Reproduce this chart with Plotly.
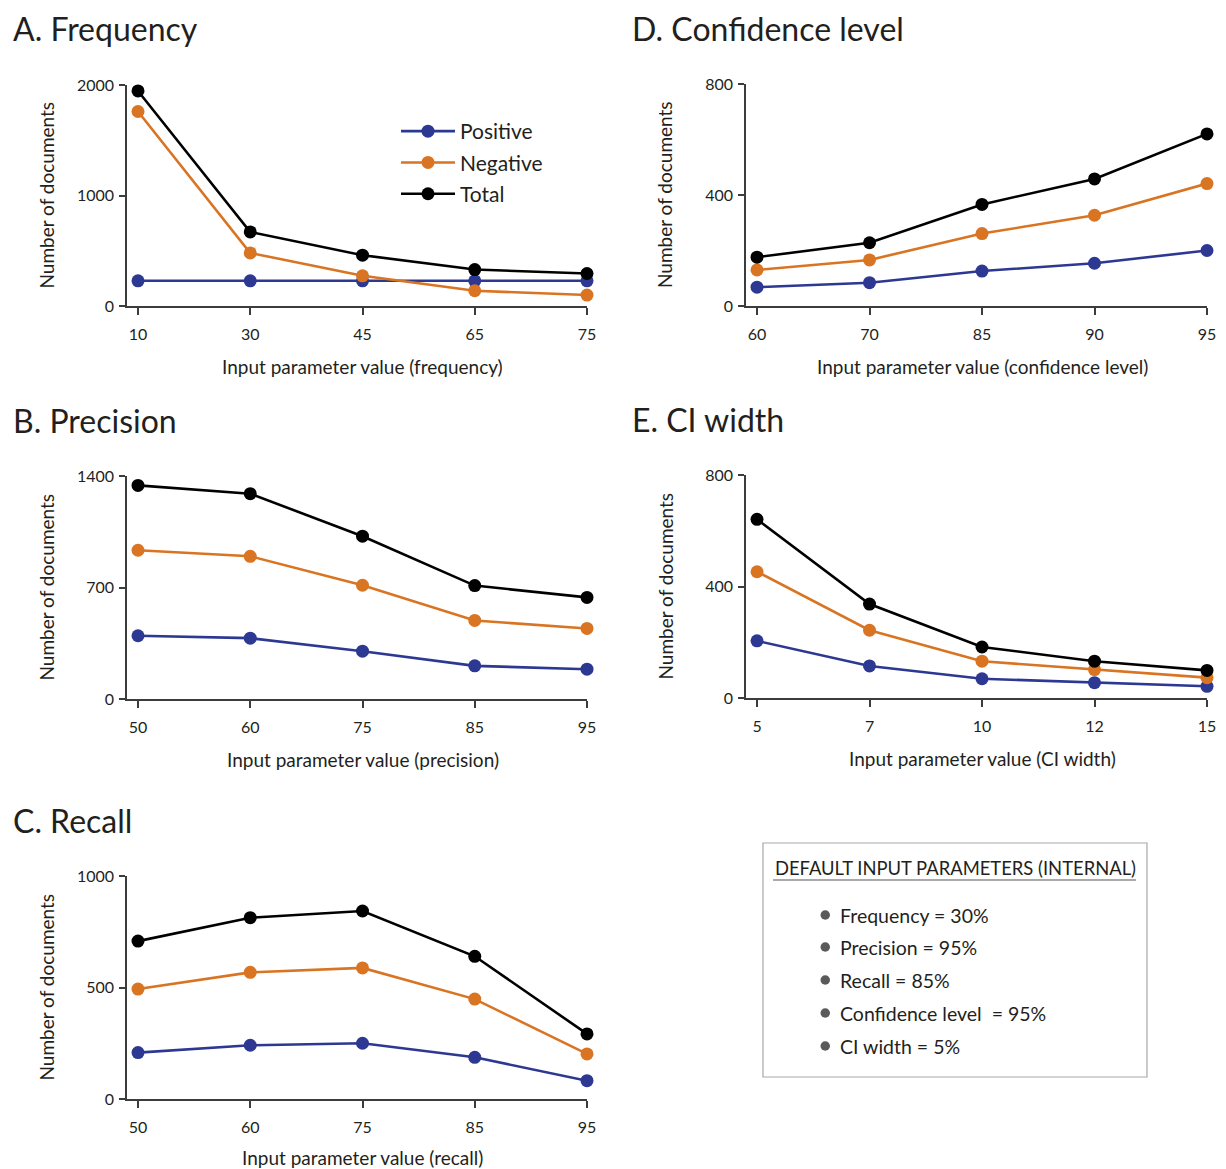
import plotly.graph_objects as go

# page is 1226x1169; the html body has an 8px margin, so the figure starts at (8, 8)
PAGE_W, PAGE_H = 1226, 1169
OFF = 8
W, H = PAGE_W - 2 * OFF, PAGE_H - OFF

# ---------------- data ----------------
freq_x = ["10", "30", "45", "65", "75"]
freq_pos = [228, 228, 228, 228, 228]
freq_neg = [1760, 480, 273, 138, 99]
freq_tot = [1946, 670, 460, 330, 294]
freq_yticks = [0, 1000, 2000]

prec_x = ["50", "60", "75", "85", "95"]
prec_pos = [397, 382, 300, 208, 187]
prec_neg = [934, 896, 714, 493, 443]
prec_tot = [1341, 1289, 1022, 712, 638]
prec_yticks = [0, 700, 1400]

rec_x = ["50", "60", "75", "85", "95"]
rec_pos = [208, 241, 250, 187, 82]
rec_neg = [493, 568, 588, 448, 202]
rec_tot = [708, 813, 843, 640, 292]
rec_yticks = [0, 500, 1000]

conf_x = ["60", "70", "85", "90", "95"]
conf_pos = [68, 84, 126, 154, 200]
conf_neg = [130, 166, 261, 327, 441]
conf_tot = [176, 228, 366, 458, 620]
conf_yticks = [0, 400, 800]

ci_x = ["5", "7", "10", "12", "15"]
ci_pos = [205, 115, 69, 55, 42]
ci_neg = [453, 243, 132, 102, 73]
ci_tot = [641, 337, 183, 132, 99]
ci_yticks = [0, 400, 800]

series_names = ["Positive", "Negative", "Total"]
series_colors = ["rgb(44,56,146)", "rgb(217,116,34)", "rgb(0,0,0)"]

defaults_title = "DEFAULT INPUT PARAMETERS (INTERNAL)"
defaults_items = ["Frequency = 30%", "Precision = 95%", "Recall = 85%",
                  "Confidence level  = 95%", "CI width = 5%"]

# ---------------- layout helpers ----------------
FONT = "Lato, 'Open Sans', sans-serif"
TXT = "#231f20"
AXC = "#3c3c3c"


def fx(px):
    """page pixel x -> paper fraction"""
    return (px - OFF) / W


def fy(py):
    """page pixel y (from top) -> paper fraction"""
    return 1 - (py - OFF) / H


panels = [
    # title, xlabels, pos, neg, tot, yticks, xtitle, (x_axis_px, x_last_px), (y_top_px, y_bot_px), xtitle_y
    ("A. Frequency", freq_x, freq_pos, freq_neg, freq_tot, freq_yticks,
     "Input parameter value (frequency)", (127, 587), (85, 306), 366),
    ("B. Precision", prec_x, prec_pos, prec_neg, prec_tot, prec_yticks,
     "Input parameter value (precision)", (127, 587), (476, 699), 759),
    ("C. Recall", rec_x, rec_pos, rec_neg, rec_tot, rec_yticks,
     "Input parameter value (recall)", (127, 587), (876, 1099), 1157),
    ("D. Confidence level", conf_x, conf_pos, conf_neg, conf_tot, conf_yticks,
     "Input parameter value (confidence level)", (746, 1207), (84, 306), 366),
    ("E. CI width", ci_x, ci_pos, ci_neg, ci_tot, ci_yticks,
     "Input parameter value (CI width)", (746, 1207), (475, 698), 758),
]

fig = go.Figure()
layout = dict(
    template="none",
    width=W, height=H, autosize=False,
    margin=dict(l=0, r=0, t=0, b=0, pad=0, autoexpand=False),
    paper_bgcolor="white", plot_bgcolor="white",
    font=dict(family=FONT, color=TXT),
    showlegend=True,
    legend=dict(x=fx(396), y=fy(111), xanchor="left", yanchor="top",
                font=dict(size=21, family=FONT, color=TXT),
                bgcolor="rgba(0,0,0,0)", borderwidth=0,
                tracegroupgap=1, itemwidth=54),
)
annotations = []
shapes = []

XPAD = 0.098
for i, (title, xl, pos, neg, tot, yt, xtitle, (xa, xb), (yt_px, yb_px), xt_y) in enumerate(panels):
    k = "" if i == 0 else str(i + 1)
    xname, yname = "x" + k, "y" + k
    xs = list(range(len(xl)))
    for j, (name, vals) in enumerate(zip(series_names, [pos, neg, tot])):
        fig.add_trace(go.Scatter(
            x=xs, y=vals, mode="lines+markers", name=name,
            legendgroup=name, showlegend=(i == 0),
            line=dict(color=series_colors[j], width=2.6),
            marker=dict(color=series_colors[j], size=13, line=dict(width=0)),
            cliponaxis=False, xaxis=xname, yaxis=yname,
        ))
    layout["xaxis" + k] = dict(
        domain=[fx(xa), fx(xb)], anchor=yname, automargin=False,
        range=[-XPAD, len(xl) - 1], tickmode="array", tickvals=xs, ticktext=xl,
        showline=True, linecolor=AXC, linewidth=1.5, ticks="outside",
        ticklen=7, tickwidth=1.5, tickcolor=AXC, showgrid=False, zeroline=False,
        tickfont=dict(size=16, family=FONT, color=TXT), ticklabelstandoff=6,
        fixedrange=True,
    )
    layout["yaxis" + k] = dict(
        domain=[fy(yb_px), fy(yt_px)], anchor=xname, automargin=False,
        range=[0, yt[-1]], tickmode="array", tickvals=yt,
        showline=True, linecolor=AXC, linewidth=1.5, ticks="outside",
        ticklen=6, tickwidth=1.5, tickcolor=AXC, showgrid=False, zeroline=False,
        tickfont=dict(size=16, family=FONT, color=TXT), ticklabelstandoff=2,
        fixedrange=True,
    )
    # panel title
    annotations.append(dict(
        text=title, xref="paper", yref="paper", x=fx(xa - 116), y=fy(yt_px - 56),
        xanchor="left", yanchor="middle", showarrow=False,
        font=dict(size=32, family=FONT, color=TXT),
    ))
    # axis titles
    annotations.append(dict(
        text=xtitle, xref="paper", yref="paper",
        x=fx((xa + 11 + xb) / 2), y=fy(xt_y),
        xanchor="center", yanchor="middle", showarrow=False,
        font=dict(size=19, family=FONT, color=TXT),
    ))
    annotations.append(dict(
        text="Number of documents", xref="paper", yref="paper",
        x=fx(xa - 81), y=fy((yt_px + yb_px) / 2), textangle=-90,
        xanchor="center", yanchor="middle", showarrow=False,
        font=dict(size=19, family=FONT, color=TXT),
    ))

# ---------------- defaults box ----------------
shapes.append(dict(type="rect", xref="paper", yref="paper",
                   x0=fx(763), x1=fx(1147), y0=fy(1077), y1=fy(843),
                   line=dict(color="#a8a8a8", width=1.2), fillcolor="rgba(0,0,0,0)"))
annotations.append(dict(
    text=defaults_title, xref="paper", yref="paper", x=fx(955), y=fy(868),
    xanchor="center", yanchor="middle", showarrow=False,
    font=dict(size=18.4, family=FONT, color=TXT),
))
shapes.append(dict(type="line", xref="paper", yref="paper",
                   x0=fx(773), x1=fx(1136), y0=fy(880), y1=fy(880),
                   line=dict(color="#555555", width=1.2)))
item_y = [915, 947, 980, 1013, 1046]
for yy, txt in zip(item_y, defaults_items):
    shapes.append(dict(type="circle", xref="paper", yref="paper",
                       x0=fx(820.5), x1=fx(830), y0=fy(yy + 4.75), y1=fy(yy - 4.75),
                       fillcolor="#5a5a5a", line=dict(color="#5a5a5a", width=0)))
    annotations.append(dict(
        text=txt, xref="paper", yref="paper", x=fx(838), y=fy(yy),
        xanchor="left", yanchor="middle", showarrow=False,
        font=dict(size=19.5, family=FONT, color=TXT),
    ))

layout["annotations"] = annotations
layout["shapes"] = shapes
fig.update_layout(**layout)

fig.write_html("out.html", config={"displayModeBar": False})
